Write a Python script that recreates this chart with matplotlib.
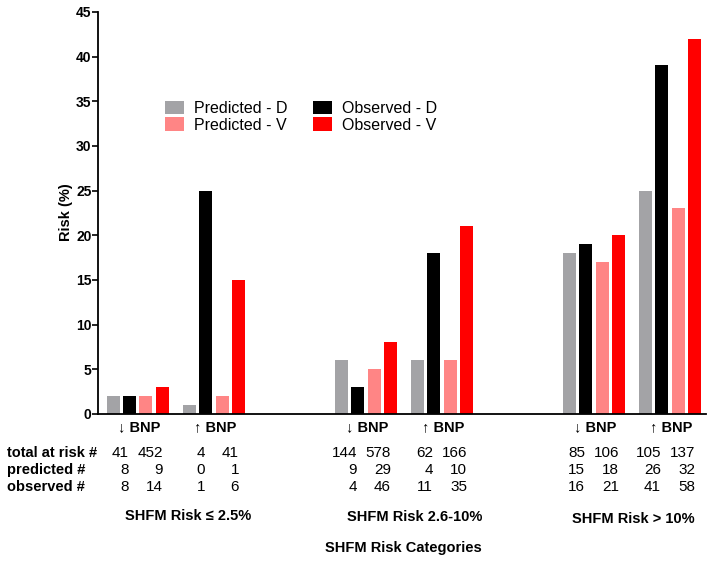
import matplotlib.pyplot as plt
from matplotlib.transforms import blended_transform_factory

plt.rcParams['font.family'] = ['Liberation Sans', 'DejaVu Sans']

groups = ['↓ BNP', '↑ BNP', '↓ BNP', '↑ BNP', '↓ BNP', '↑ BNP']
categories = ['SHFM Risk \u2264 2.5%', 'SHFM Risk 2.6-10%', 'SHFM Risk > 10%']

pred_d = [2, 1, 6, 6, 18, 25]
obs_d = [2, 25, 3, 18, 19, 39]
pred_v = [2, 2, 5, 6, 17, 23]
obs_v = [3, 15, 8, 21, 20, 42]

total_risk = [(41, 452), (4, 41), (144, 578), (62, 166), (85, 106), (105, 137)]
predicted_n = [(8, 9), (0, 1), (9, 29), (4, 10), (15, 18), (26, 32)]
observed_n = [(8, 14), (1, 6), (4, 46), (11, 35), (16, 21), (41, 58)]

series = [
    ('Predicted - D', pred_d, '#a3a3a6'),
    ('Observed - D', obs_d, '#000000'),
    ('Predicted - V', pred_v, '#ff8585'),
    ('Observed - V', obs_v, '#ff0000'),
]

fig = plt.figure(figsize=(7.14, 5.64), dpi=100)
ax = fig.add_axes([0.137, 0.266, 0.852, 0.713])

centers = []
for i in range(len(groups)):
    centers.append(40 + 228 * (i // 2) + 76 * (i % 2))

pitch = 16.3
handles = {}
for k, (name, vals, col) in enumerate(series):
    xs = [c + (k - 1.5) * pitch for c in centers]
    handles[name] = ax.bar(xs, vals, width=13, color=col, label=name)

ax.set_xlim(0, 608)
ax.set_ylim(0, 45)
ax.set_yticks(range(0, 46, 5))
ax.set_xticks([])
ax.spines['top'].set_visible(False)
ax.spines['right'].set_visible(False)
ax.spines['left'].set_linewidth(1.3)
ax.spines['bottom'].set_linewidth(1.3)
ax.tick_params(axis='y', length=4, width=1.2, pad=0.5, labelsize=10)
for t in ax.get_yticklabels():
    t.set_fontweight('bold')

fy = lambda py: 1 - py / 564.0
fig.text(66 / 714, fy(212), 'Risk (%)', rotation=90, ha='center', va='center',
         fontsize=10.5, fontweight='bold')

order = ['Predicted - D', 'Predicted - V', 'Observed - D', 'Observed - V']
ax.legend([handles[n] for n in order], order, ncol=2, frameon=False,
          loc='upper left', bbox_to_anchor=(0.1, 0.795), fontsize=11.5,
          handlelength=1.2, handleheight=0.9, handletextpad=0.6,
          columnspacing=1.6, labelspacing=0.1, borderaxespad=0)

bt = blended_transform_factory(ax.transData, fig.transFigure)

for i, c in enumerate(centers):
    ax.text(c + 1, fy(427), groups[i], transform=bt, ha='center', va='center',
            fontsize=10.5, fontweight='bold', clip_on=False)
    for row, py in ((total_risk, 453), (predicted_n, 470), (observed_n, 487)):
        a, b = row[i]
        ax.text(c - 9, fy(py), str(a), transform=bt, ha='right', va='center',
                fontsize=11, clip_on=False)
        ax.text(c + 25, fy(py), str(b), transform=bt, ha='right', va='center',
                fontsize=11, clip_on=False)

for lab, py in (('total at risk #', 453), ('predicted #', 470), ('observed #', 487)):
    fig.text(7 / 714, fy(py), lab, ha='left', va='center', fontsize=10.5,
             fontweight='bold')

for cat, px, py in zip(categories, (188, 415, 633), (516, 517, 519)):
    fig.text(px / 714, fy(py), cat, ha='center', va='center',
             fontsize=10.5, fontweight='bold')

fig.text(403 / 714, fy(548), 'SHFM Risk Categories', ha='center', va='center',
         fontsize=10.5, fontweight='bold')

plt.savefig('out.png', dpi=100)
